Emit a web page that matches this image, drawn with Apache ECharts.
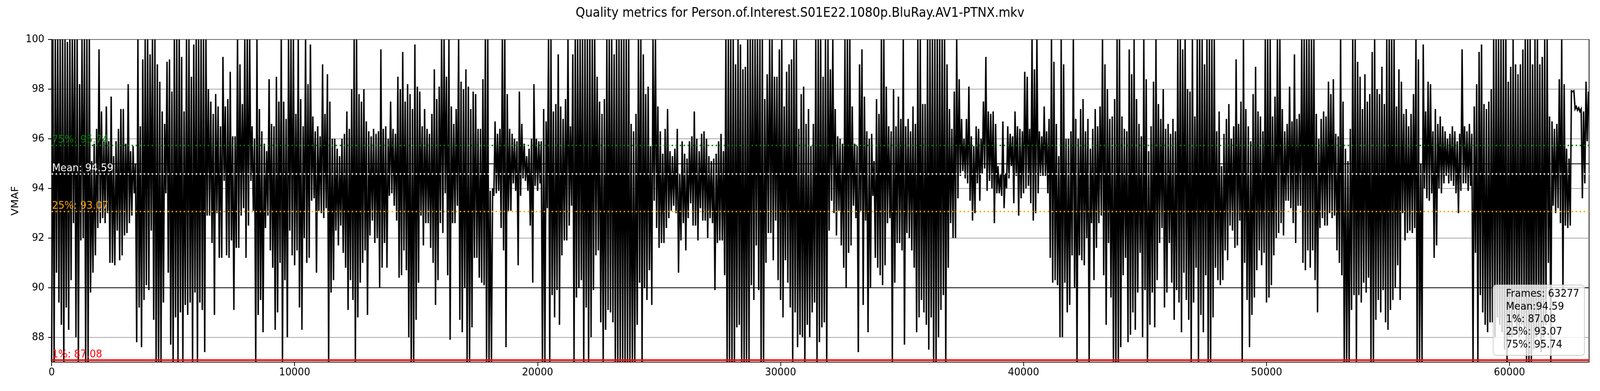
<!DOCTYPE html>
<html>
<head>
<meta charset="utf-8">
<script src="https://cdn.jsdelivr.net/npm/echarts@6/dist/echarts.min.js"></script>
<style>
html,body{margin:0;padding:0;background:#ffffff;overflow:hidden;}
#wrap{position:absolute;left:0;top:0;width:4400px;height:1000px;transform-origin:0 0;}
#chart{width:4400px;height:1000px;}
</style>
</head>
<body>
<div id="wrap"><div id="chart"></div></div>
<script>
const chartTitle = 'Quality metrics for Person.of.Interest.S01E22.1080p.BluRay.AV1-PTNX.mkv';
const frameCount = 63277;
const binFrames = 100;
const meanVmaf = 94.59;
const p1Vmaf = 87.08;
const p25Vmaf = 93.07;
const p75Vmaf = 95.74;
const xTickValues = [0, 10000, 20000, 30000, 40000, 50000, 60000];
const yTickValues = [88, 90, 92, 94, 96, 98, 100];
const majorGridValues = [90, 95];

// per 100-frame bin: lowest VMAF
const vmafLow = [
87.0,87.0,90.6,89.4,88.5,87.0,89.2,88.3,90.3,92.6,88.0,87.0,91.9,92.0,87.0,87.0,89.8,90.6,91.3,92.4,
92.6,92.8,92.6,93.0,91.0,91.0,90.9,92.3,91.1,91.3,92.1,92.2,92.6,92.9,93.8,87.8,89.2,87.6,89.5,90.1,
89.9,92.3,88.7,87.0,87.0,87.0,89.4,93.8,90.6,87.7,87.0,88.8,87.0,89.0,87.0,89.3,88.9,89.4,87.0,89.8,
87.0,89.4,89.1,87.4,92.9,92.9,91.8,88.9,93.0,91.2,91.2,94.3,91.3,91.2,91.9,89.1,91.6,91.6,92.9,93.2,
91.2,92.5,94.3,93.1,87.0,88.9,89.5,88.2,92.4,92.9,91.5,90.8,88.3,89.0,91.0,87.0,90.3,88.0,92.3,91.3,
90.9,91.5,89.2,88.3,92.0,91.0,91.2,93.5,93.6,90.6,93.1,93.0,92.8,93.2,87.0,89.8,90.3,92.3,91.7,92.5,
91.4,90.8,89.1,90.3,89.5,87.0,88.8,90.2,91.0,91.5,88.9,92.1,92.7,91.8,92.0,90.0,90.8,91.8,90.8,93.7,
93.8,93.3,92.7,90.4,90.5,91.5,90.7,88.0,87.0,87.0,88.7,90.2,92.9,91.7,92.6,92.6,91.6,91.0,89.3,90.3,
92.6,92.2,93.8,90.5,87.9,92.6,92.6,93.3,88.7,88.2,90.0,87.0,87.0,88.4,91.2,91.2,90.4,90.2,90.1,87.0,
87.0,87.0,93.7,93.8,93.9,92.4,91.5,87.6,93.1,93.1,94.2,93.9,90.9,93.7,94.4,94.3,93.9,92.5,90.2,94.1,
93.9,94.2,87.0,87.0,93.2,87.0,89.7,88.8,89.9,88.5,91.3,91.9,91.9,92.5,93.3,87.0,89.6,90.0,90.3,87.0,
89.2,87.0,88.0,89.9,91.3,91.5,88.6,87.0,88.3,89.1,89.0,88.6,87.0,87.0,87.0,87.0,87.0,87.0,87.0,87.0,
87.0,88.5,90.2,87.0,90.0,89.5,90.7,89.3,93.5,92.4,91.6,91.8,91.8,92.4,92.8,93.1,93.3,93.0,90.6,91.9,
92.6,91.5,92.8,93.4,92.5,92.5,91.9,93.2,92.7,92.7,92.0,92.8,92.6,89.9,91.8,91.9,91.9,90.5,87.0,87.0,
87.0,87.0,88.4,88.5,87.0,87.0,87.0,87.0,90.1,89.5,91.7,89.9,87.0,87.0,91.0,92.2,92.2,91.1,92.7,90.3,
89.5,88.8,91.1,90.2,89.2,87.0,89.0,87.6,88.1,88.0,87.0,88.5,88.0,89.0,89.4,87.0,87.8,88.4,88.6,87.0,
92.3,93.5,93.0,92.1,93.1,91.7,90.8,90.0,91.4,91.7,93.3,92.8,87.4,93.1,89.3,92.7,88.2,90.0,93.7,91.2,
90.8,90.5,90.1,90.9,92.6,92.8,87.0,90.2,91.8,91.8,91.5,87.7,92.2,92.0,91.5,90.8,88.2,88.8,89.5,89.0,
88.5,87.5,88.8,87.0,87.0,88.0,89.1,89.7,87.0,90.8,92.6,92.0,92.0,93.6,94.5,94.7,94.4,94.2,93.5,92.7,
93.0,94.2,93.5,94.6,94.8,93.9,94.3,94.0,92.6,93.8,93.8,93.7,93.2,94.0,94.4,94.9,93.4,94.5,92.9,93.6,
93.8,94.0,94.1,93.4,92.7,93.0,93.8,94.5,94.5,94.5,93.8,91.2,90.2,90.3,90.1,88.0,88.0,90.2,89.0,89.3,
91.3,90.0,87.0,91.3,91.1,90.9,92.0,87.0,92.6,90.3,91.6,92.6,92.9,90.5,88.5,91.8,89.6,87.0,87.0,87.0,
87.6,90.5,91.2,87.8,88.1,89.0,88.3,89.8,91.4,88.0,89.9,87.0,88.5,89.8,88.4,90.3,91.8,92.4,89.2,89.8,
91.8,90.2,88.7,89.9,89.4,88.2,90.6,89.5,88.7,87.0,89.4,90.8,87.0,88.9,88.2,90.5,87.0,87.0,88.8,90.8,
90.3,90.1,90.3,91.5,91.1,92.5,92.3,91.6,91.7,92.7,87.0,91.0,89.5,87.6,88.9,89.6,90.7,91.5,90.9,91.4,
89.4,89.6,90.1,91.3,92.0,92.2,92.6,92.1,93.5,93.5,93.2,92.6,91.8,93.3,93.3,91.0,90.7,91.5,90.8,91.5,
90.3,89.0,92.4,92.8,92.5,92.5,93.0,92.8,92.9,91.5,91.0,90.5,87.0,87.0,87.0,89.1,89.7,87.0,89.7,89.4,
90.2,89.8,90.4,87.0,87.0,88.7,89.5,89.0,89.9,88.6,88.3,89.1,89.5,90.0,90.9,89.5,93.0,91.9,92.2,92.3,
92.2,92.4,87.0,87.0,87.0,94.0,93.6,93.5,93.8,91.2,91.7,94.0,93.8,94.2,94.5,94.2,94.3,94.1,93.8,93.0,
93.9,94.2,94.2,93.9,94.1,87.0,91.4,87.0,89.7,89.0,88.5,88.2,88.6,88.6,88.0,88.8,88.5,88.2,87.5,87.0,
88.0,88.0,88.6,88.3,88.0,88.5,88.4,87.0,87.0,87.0,87.5,88.0,88.2,87.4,88.0,88.5,91.0,87.0,93.3,93.0,
93.2,92.6,89.8,92.5,92.4,92.5,97.9,97.2,97.15,97.1,93.6,94.2,95.9
];

// per 100-frame bin: highest VMAF
const vmafHigh = [
100,100,100,100,100,100,99.9,100,100,100,100,98.2,100,100,100,100,95.1,95.8,96.4,99.6,
97.1,95.9,97.3,95.9,97.7,95.3,95.9,96.4,97.2,97.2,95.8,98.2,95.5,95.7,95.0,100,96.5,99.2,100,100,
99.4,100,100,99.0,98.3,97.1,96.6,99.1,99.2,97.9,100,100,100,99.3,97.1,100,100,98.5,99.8,100,
100,100,100,100,98.0,97.5,97.0,97.8,97.3,96.5,99.3,97.3,97.6,98.7,96.1,96.1,100,99.0,97.4,100,
100,100,96.5,96.0,100,97.2,96.3,95.8,95.5,98.4,96.6,96.5,98.5,97.5,100,97.5,96.8,100,100,100,
97.0,100,97.6,96.5,100,98.2,99.8,96.9,96.3,96.5,96.1,99.0,97.0,98.6,97.5,96.0,96.0,95.6,95.3,96.0,
96.2,97.1,96.4,98.0,100,100,97.8,97.5,98.0,96.7,96.3,96.1,96.4,96.2,96.3,99.6,96.4,96.5,96.0,97.5,
96.4,96.2,98.5,98.0,99.5,97.5,98.2,97.8,97.2,99.8,98.1,97.9,96.5,97.2,96.4,96.2,97.0,98.8,97.6,98.1,
100,100,98.5,100,97.3,96.6,97.2,100,98.3,98.0,98.8,98.1,97.2,97.9,97.8,96.4,96.4,98.4,100,100,
93.9,94.0,96.7,96.2,96.4,100,100,97.8,96.4,96.2,96.0,95.9,97.9,96.6,95.8,95.3,95.6,96.0,98.2,96.0,
95.9,95.9,97.2,96.7,100,100,97.1,97.4,99.4,97.3,96.8,97.6,100,96.5,99.4,100,100,100,100,100,
100,100,100,100,98.5,97.5,97.0,97.6,100,100,100,99.4,100,100,100,100,100,100,96.6,96.3,
97.0,100,100,99.4,97.8,98.1,95.7,100,100,97.3,96.3,95.4,96.4,97.2,95.5,95.3,95.6,96.4,94.6,95.9,
95.4,95.2,95.9,96.1,97.1,96.0,95.5,96.2,96.3,96.0,95.3,95.1,95.2,95.4,95.9,96.2,95.5,100,100,100,
100,99.0,100,99.8,98.8,98.9,100,100,100,100,100,100,100,97.6,98.6,100,100,98.5,98.5,99.6,
100,97.3,98.7,99.0,99.2,100,100,96.4,97.8,98.1,96.6,97.2,95.7,96.6,100,100,100,98.5,100,100,
98.8,100,97.2,96.1,96.0,95.8,100,100,100,97.3,95.8,95.7,99.0,99.6,97.7,96.3,96.0,96.2,95.1,97.6,
97.0,100,100,98.1,96.5,96.3,98.0,96.5,97.7,96.8,100,96.5,96.8,96.3,97.3,96.6,100,100,97.4,97.4,
100,100,100,100,100,100,100,100,99.0,97.2,96.4,97.9,100,98.4,96.8,96.0,96.8,98.1,96.1,95.7,
96.5,96.4,96.0,97.5,99.3,97.1,97.0,97.1,96.6,94.9,94.6,96.7,94.6,96.5,96.2,96.1,97.1,96.5,96.4,96.3,
98.7,98.5,96.4,100,98.8,100,96.3,96.1,97.3,96.3,96.8,100,99.1,96.6,95.3,100,99.0,96.0,96.0,96.3,
100,96.8,96.0,97.2,97.6,96.3,96.8,95.6,96.4,97.2,96.5,97.3,100,99.0,98.0,96.8,96.9,97.6,100,100,
96.9,96.4,96.3,99.6,98.6,100,97.6,96.6,96.1,100,98.4,95.5,96.5,98.3,100,97.4,96.8,98.0,96.4,96.6,
96.2,96.8,96.3,100,100,99.6,100,98.0,97.9,100,96.9,100,100,100,99.0,100,100,100,100,96.3,
97.1,94.9,96.2,96.8,97.4,96.0,96.5,99.2,96.6,97.5,100,97.2,96.5,95.9,97.8,98.9,97.1,96.9,96.3,100,
100,100,96.9,97.7,100,100,97.2,96.3,96.6,98.1,96.7,99.4,96.8,97.0,100,100,100,100,100,100,
97.0,96.0,96.8,97.1,96.9,98.3,97.8,98.4,96.2,96.1,100,97.5,95.6,95.1,96.4,100,100,99.1,98.5,97.2,
98.6,97.5,97.8,99.5,100,98.0,97.8,98.9,97.4,100,100,100,100,97.3,98.8,98.3,97.0,97.2,96.5,97.0,
97.8,100,99.2,95.0,99.8,97.1,98.3,98.2,96.3,97.2,96.6,96.9,96.5,96.3,96.0,96.2,96.5,96.3,95.9,96.2,
99.6,96.5,96.3,96.6,96.2,97.3,98.2,99.5,99.8,97.4,97.2,97.5,98.0,100,100,100,100,100,100,98.3,
98.9,100,99.0,98.6,99.0,99.6,100,100,100,99.0,100,100,99.0,99.3,100,100,96.9,96.7,96.4,96.6,
98.4,100,98.2,95.6,95.2,97.93,97.93,97.3,97.25,97.2,97.1,98.3,97.9
];

const legendLines = [
  'Frames: ' + frameCount,
  'Mean:' + meanVmaf.toFixed(2),
  '1%: ' + p1Vmaf.toFixed(2),
  '25%: ' + p25Vmaf.toFixed(2),
  '75%: ' + p75Vmaf.toFixed(2)
];

// the browser viewport may be narrower than 4400px; map the 4400x1000 drawing onto it
const scaleX = window.innerWidth / 4400;
const scaleY = window.innerHeight / 1000;
document.getElementById('wrap').style.transform = 'scale(' + scaleX + ',' + scaleY + ')';

const nBins = Math.min(vmafLow.length, vmafHigh.length);
const lineData = [];
for (let k = 0; k < nBins; k++) {
  lineData.push([k * binFrames, vmafLow[k]]);
  lineData.push([k * binFrames + binFrames / 2, vmafHigh[k]]);
}

const FONT = 'DejaVu Sans';
const chart = echarts.init(document.getElementById('chart'), null, {renderer: 'canvas', width: 4400, height: 1000});

function refLine(value, color, width, type, text) {
  const item = {
    yAxis: value,
    lineStyle: {color: color, width: width, type: type},
    label: {show: false}
  };
  if (text) {
    item.label = {
      show: true,
      formatter: text,
      position: 'insideStartTop',
      distance: [1, 0],
      color: color,
      fontSize: 27,
      fontFamily: FONT,
      padding: 0
    };
  }
  return item;
}

const option = {
  animation: false,
  backgroundColor: '#ffffff',
  textStyle: {fontFamily: FONT},
  title: [
    {
      text: chartTitle,
      left: 'center',
      top: 18,
      padding: 0,
      textStyle: {fontSize: 33, fontWeight: 'normal', color: '#000000', fontFamily: FONT}
    },
    {
      text: legendLines.join('\n'),
      right: 43,
      top: 729,
      padding: [7, 14, 11, 35],
      backgroundColor: 'rgba(255,255,255,0.8)',
      borderColor: '#cccccc',
      borderWidth: 2,
      borderRadius: 8,
      textStyle: {fontSize: 27, lineHeight: 32.4, fontWeight: 'normal', color: '#000000', fontFamily: FONT}
    }
  ],
  grid: {
    left: 142, right: 30, top: 101, bottom: 74,
    show: true, borderColor: '#000000', borderWidth: 2, backgroundColor: 'transparent'
  },
  xAxis: {
    type: 'value',
    min: 0,
    max: frameCount,
    interval: 10000,
    splitLine: {show: false},
    axisLine: {show: true, onZero: false, lineStyle: {color: '#000000', width: 2}},
    axisTick: {show: true, length: 10, lineStyle: {color: '#000000', width: 2}, customValues: xTickValues},
    axisLabel: {
      show: true, fontSize: 27, color: '#000000', fontFamily: FONT, margin: 13,
      customValues: xTickValues,
      formatter: function (v) { return (v % 10000 === 0) ? String(v) : ''; }
    }
  },
  yAxis: {
    type: 'value',
    min: 87,
    max: 100,
    interval: 1,
    name: 'VMAF',
    nameLocation: 'middle',
    nameGap: 86,
    nameTextStyle: {fontSize: 27, color: '#000000', fontFamily: FONT},
    axisLine: {show: true, onZero: false, lineStyle: {color: '#000000', width: 2}},
    axisTick: {show: true, length: 10, lineStyle: {color: '#000000', width: 2}, customValues: yTickValues},
    axisLabel: {
      show: true, fontSize: 27, color: '#000000', fontFamily: FONT, margin: 20,
      customValues: yTickValues,
      formatter: function (v) { return (v % 2 === 0) ? String(v) : ''; }
    },
    splitLine: {show: true, lineStyle: {color: '#8c8c8c', width: 1.5}}
  },
  series: [
    {
      name: 'VMAF',
      type: 'line',
      data: lineData,
      showSymbol: false,
      symbol: 'none',
      sampling: null,
      clip: true,
      z: 2,
      silent: true,
      lineStyle: {color: '#000000', width: 3.9, join: 'miter'},
      markLine: {
        silent: true,
        symbol: ['none', 'none'],
        animation: false,
        precision: 2,
        data: [
          refLine(majorGridValues[0], '#000000', 2, 'solid', null),
          refLine(majorGridValues[1], '#000000', 2, 'solid', null),
          refLine(p1Vmaf, '#ff0000', 4, 'solid', '1%: ' + p1Vmaf.toFixed(2)),
          refLine(p25Vmaf, '#ffa500', 3.5, [4, 7], '25%: ' + p25Vmaf.toFixed(2)),
          refLine(meanVmaf, '#ffffff', 3.5, [4, 7], 'Mean: ' + meanVmaf.toFixed(2)),
          refLine(p75Vmaf, '#008000', 3.5, [4, 7], '75%: ' + p75Vmaf.toFixed(2))
        ]
      }
    }
  ]
};
chart.setOption(option);
</script>
</body>
</html>
